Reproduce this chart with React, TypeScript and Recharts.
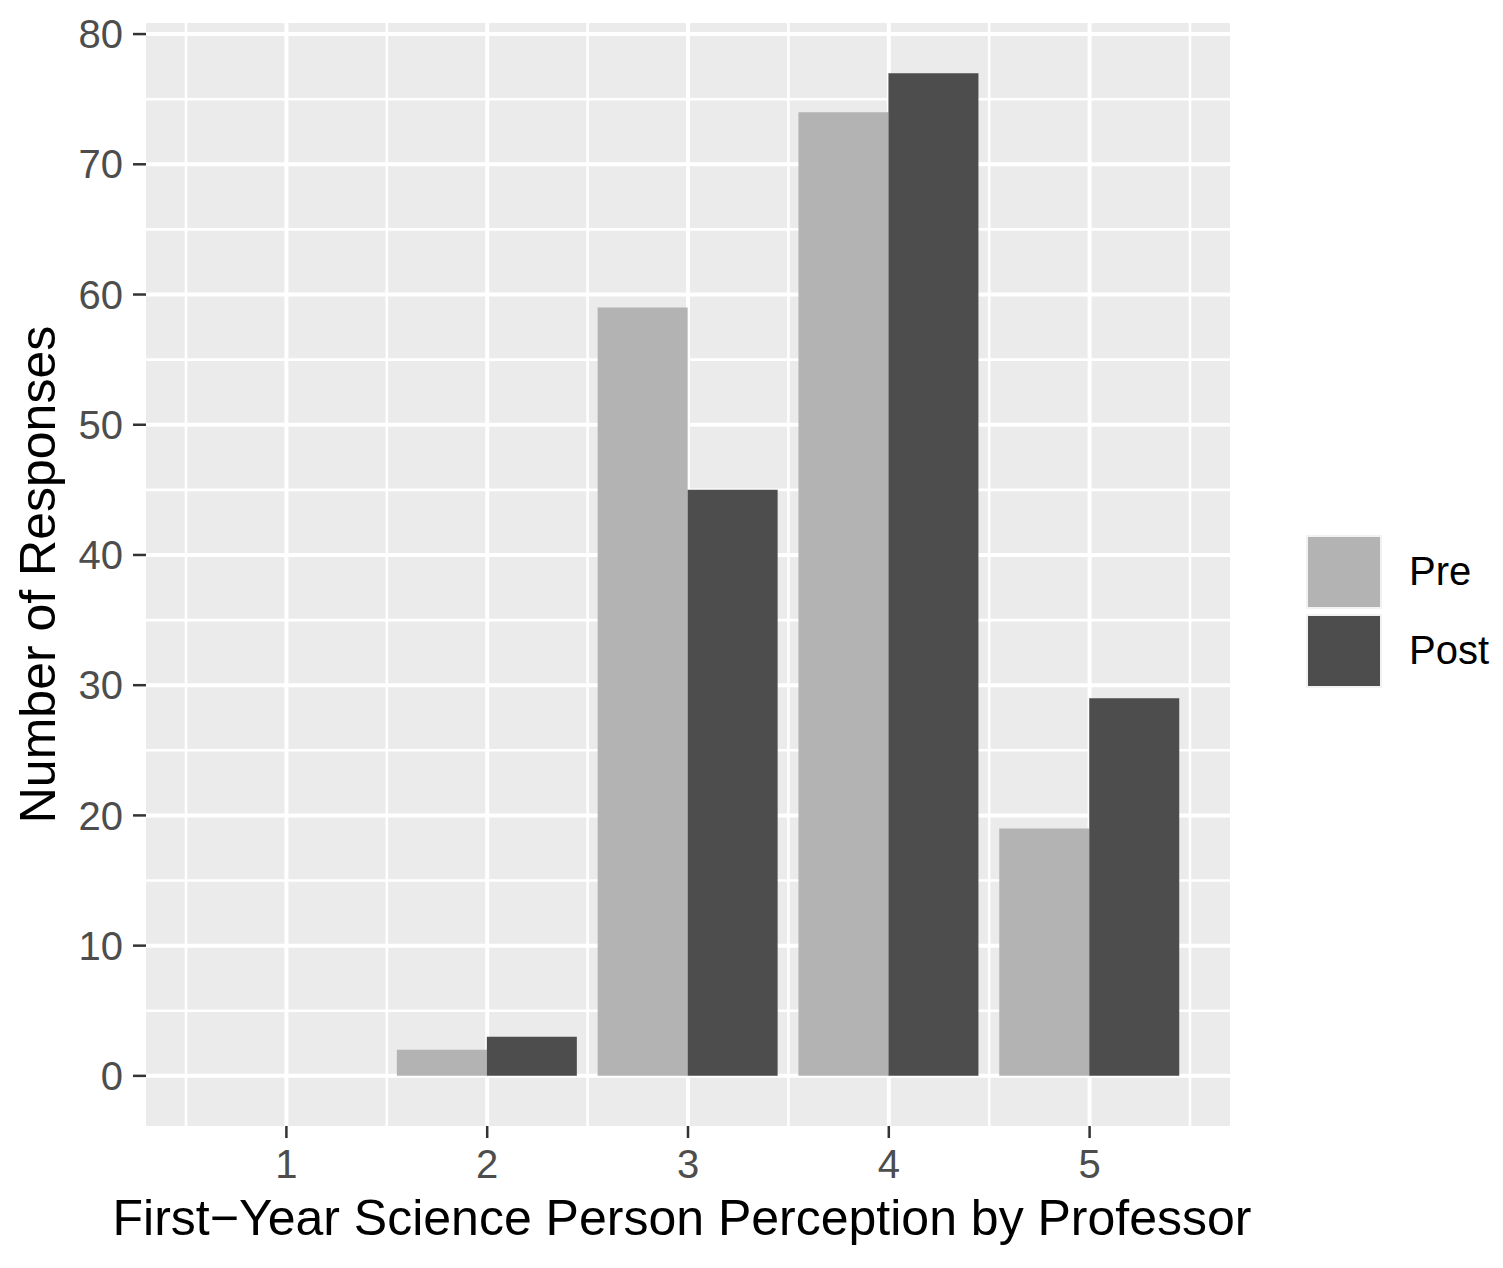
import React from "react";
import { BarChart, Bar, XAxis, YAxis, CartesianGrid, Legend, Label } from "recharts";

const categories = ["1", "2", "3", "4", "5"];
const seriesNames = ["Pre", "Post"];
const preValues = [0, 2, 59, 74, 19];
const postValues = [0, 3, 45, 77, 29];
const yTicks = [0, 10, 20, 30, 40, 50, 60, 70, 80];
const yMinorTicks = [5, 15, 25, 35, 45, 55, 65, 75];

const FONT = "'Liberation Sans', Arial, Helvetica, sans-serif";
const PRE_COLOR = "#B3B3B3";
const POST_COLOR = "#4D4D4D";
const X_PAD = 40;

const data = categories.map((c, i) => ({
  cat: c,
  pre: preValues[i],
  post: postValues[i],
}));

// ggplot-ish 5% expansion of the data range
const yMax = Math.max(...preValues, ...postValues);
const yDomain = [-yMax * 0.05, yMax * 1.05];

const toPx = (s: any, v: any) => {
  if (typeof s === "function") return s(v);
  if (s && typeof s.map === "function") return s.map(v);
  if (s && typeof s.apply === "function") return s.apply(v);
  return NaN;
};

// minor vertical lines sit on the band edges (between categories)
const minorVertical = ({ xAxis, offset }: any) => {
  const s = xAxis && xAxis.scale;
  const bw = s && typeof s.bandwidth === "function" ? s.bandwidth() : NaN;
  const starts = categories.map((c) => toPx(s, c));
  if (!isNaN(bw) && starts.every((p) => typeof p === "number" && !isNaN(p))) {
    return [...starts, starts[starts.length - 1] + bw];
  }
  const band = (offset.width - 2 * X_PAD) / categories.length;
  return [
    ...categories.map((_, i) => offset.left + X_PAD + i * band),
    offset.left + X_PAD + categories.length * band,
  ];
};

const renderLegend = (props: any) => {
  const items = [...(props.payload || [])].sort(
    (a: any, b: any) => seriesNames.indexOf(a.value) - seriesNames.indexOf(b.value)
  );
  return (
    <div style={{ fontFamily: FONT, fontSize: 40, color: "#000" }}>
      {items.map((it: any) => (
        <div
          key={it.value}
          style={{ display: "flex", alignItems: "center", height: 79 }}
        >
          <div
            style={{
              width: 76,
              height: 74,
              background: it.color,
              border: "2px solid #F2F2F2",
              boxSizing: "border-box",
            }}
          />
          <span style={{ marginLeft: 27 }}>{it.value}</span>
        </div>
      ))}
    </div>
  );
};

export default function App() {
  return (
    <div
      style={{
        position: "absolute",
        left: 0,
        top: 0,
        width: 1503,
        height: 1268,
        background: "#fff",
      }}
    >
      <BarChart
        width={1503}
        height={1268}
        data={data}
        margin={{ top: 23, right: 273, bottom: 0, left: 0 }}
        barCategoryGap="5%"
        barGap={0}
      >
        <CartesianGrid
          fill="#EBEBEB"
          stroke="#FFFFFF"
          strokeWidth={2.6}
          horizontalValues={yMinorTicks}
          verticalCoordinatesGenerator={minorVertical}
        />
        <CartesianGrid
          stroke="#FFFFFF"
          strokeWidth={4}
          horizontalValues={yTicks}
          verticalValues={categories}
        />
        <XAxis
          dataKey="cat"
          height={142}
          padding={{ left: X_PAD, right: X_PAD }}
          axisLine={false}
          tickSize={12}
          tickMargin={12}
          tickLine={{ stroke: "#333333", strokeWidth: 2.5 }}
          tick={{ fill: "#4D4D4D", fontSize: 40, fontFamily: FONT }}
        >
          <Label
            content={(p: any) => {
              const vb = p.viewBox;
              return (
                <text
                  x={vb.x + vb.width / 2 - 6}
                  y={vb.y + 109}
                  textAnchor="middle"
                  fontSize={50}
                  fontFamily={FONT}
                  fill="#000"
                >
                  First−Year Science Person Perception by Professor
                </text>
              );
            }}
          />
        </XAxis>
        <YAxis
          type="number"
          width={146}
          domain={yDomain}
          ticks={yTicks}
          interval={0}
          axisLine={false}
          tickSize={13}
          tickMargin={10}
          tickLine={{ stroke: "#333333", strokeWidth: 2.5 }}
          tick={{ fill: "#4D4D4D", fontSize: 40, fontFamily: FONT }}
        >
          <Label
            content={(p: any) => {
              const vb = p.viewBox;
              const cx = 55;
              const cy = vb.y + vb.height / 2;
              return (
                <text
                  x={cx}
                  y={cy}
                  transform={`rotate(-90 ${cx} ${cy})`}
                  textAnchor="middle"
                  fontSize={50}
                  fontFamily={FONT}
                  fill="#000"
                >
                  Number of Responses
                </text>
              );
            }}
          />
        </YAxis>
        <Legend
          layout="vertical"
          align="center"
          verticalAlign="middle"
          content={renderLegend}
          wrapperStyle={{ left: 1306, top: 532, width: 190 }}
        />
        <Bar dataKey="pre" name="Pre" fill={PRE_COLOR} isAnimationActive={false} />
        <Bar dataKey="post" name="Post" fill={POST_COLOR} isAnimationActive={false} />
      </BarChart>
    </div>
  );
}
